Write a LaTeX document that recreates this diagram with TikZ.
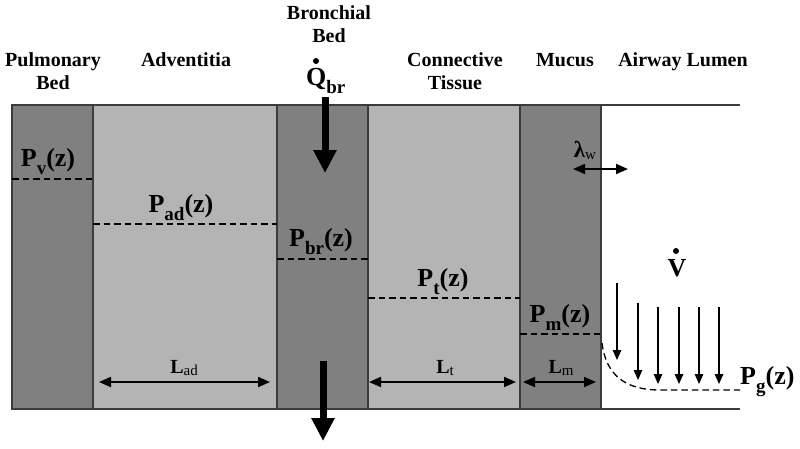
\documentclass[tikz,border=0pt]{standalone}
\usepackage{fontspec}
\setmainfont{Liberation Serif}
\usetikzlibrary{arrows.meta}
\definecolor{darkcol}{RGB}{128,128,128}
\definecolor{lightcol}{RGB}{180,180,180}
\definecolor{edgecol}{RGB}{60,60,60}
\newcommand{\psub}[1]{\raisebox{-0.32em}{\fontsize{19}{19}\selectfont #1}}
\newcommand{\lsub}[1]{\raisebox{-0.12em}{\fontsize{15}{15}\selectfont\mdseries #1}}
\tikzset{
  heading/.style={font=\fontsize{20}{23}\selectfont\bfseries, align=center, inner sep=0pt, text depth=0pt, anchor=south},
  plab/.style={font=\fontsize{26}{26}\selectfont\bfseries, inner sep=0pt, anchor=base},
  llab/.style={font=\fontsize{20}{20}\selectfont\bfseries, inner sep=0pt, anchor=base},
  layer/.style={draw=edgecol, line width=1.3pt},
  dline/.style={dash pattern=on 6.5pt off 4pt, line width=1.3pt, black},
  dimarrow/.style={{Triangle[length=12pt,width=10pt]}-{Triangle[length=12pt,width=10pt]}, line width=1.8pt},
  flow/.style={-{Triangle[length=10pt,width=8.5pt]}, line width=1.1pt},
  bigarrow/.style={-{Triangle[length=23pt,width=22pt]}, line width=7pt},
}
\begin{document}
\begin{tikzpicture}[x=1pt,y=-1pt]
\useasboundingbox (0,0) rectangle (800,448);
\fill[white] (0,0) rectangle (800,448);
% layers
\draw[layer, fill=darkcol] (12,105) rectangle (93,409);
\draw[layer, fill=lightcol] (93,105) rectangle (277,409);
\draw[layer, fill=darkcol] (277,105) rectangle (368,409);
\draw[layer, fill=lightcol] (368,105) rectangle (520,409);
\draw[layer, fill=darkcol] (520,105) rectangle (601,409);
\draw[layer] (601,105) -- (740,105);
\draw[layer] (601,409) -- (740,409);
% headings
\node[heading] (hpul) at (53,90) {Pulmonary\\Bed};
\node[heading] (hadv) at (186,67) {Adventitia};
\node[heading] (hbro) at (329,43) {Bronchial\\Bed};
\node[heading] (hcon) at (455,90) {Connective\\Tissue};
\node[heading] (hmuc) at (565,67) {Mucus};
\node[heading] (hair) at (683,67) {Airway Lumen};
% bronchial flow
\node[font=\fontsize{26}{26}\selectfont\bfseries, inner sep=0pt, anchor=base west] (qbr) at (306,85) {Q\psub{br}};
\fill (316,61) circle (3pt);
\coordinate (qin1) at (325,97);
\coordinate (qin2) at (325,173);
\coordinate (qout1) at (323,361);
\coordinate (qout2) at (323,441);
\draw[bigarrow] (qin1) -- (qin2);
\draw[bigarrow] (qout1) -- (qout2);
% pressure lines
\draw[dline] (12,179) -- (93,179);
\node[plab] (pv) at (48,166) {P\psub{v}(z)};
\draw[dline] (93,224) -- (277,224);
\node[plab] (pad) at (181,212) {P\psub{ad}(z)};
\draw[dline] (277,259) -- (368,259);
\node[plab] (pbr) at (321,246) {P\psub{br}(z)};
\draw[dline] (368,298) -- (520,298);
\node[plab] (pt) at (443,286) {P\psub{t}(z)};
\draw[dline] (520,334) -- (601,334);
\node[plab] (pm) at (560,322) {P\psub{m}(z)};
\draw[dline] (602,343) .. controls (606,375) and (625,390) .. (660,390) -- (740,390);
\node[plab, anchor=base west] (pg) at (740,384) {P\psub{g}(z)};
% widths
\coordinate (lad1) at (99,382); \coordinate (lad2) at (270,382);
\draw[dimarrow] (lad1) -- (lad2);
\node[llab] (lad) at (184,373) {L\lsub{ad}};
\coordinate (lt1) at (369,382); \coordinate (lt2) at (516,382);
\draw[dimarrow] (lt1) -- (lt2);
\node[llab] (lt) at (445,373) {L\lsub{t}};
\coordinate (lm1) at (523,382); \coordinate (lm2) at (596,382);
\draw[dimarrow] (lm1) -- (lm2);
\node[llab] (lm) at (561,373) {L\lsub{m}};
\coordinate (lw1) at (573,169); \coordinate (lw2) at (628,169);
\draw[dimarrow] (lw1) -- (lw2);
\node[llab, font=\fontsize{23}{23}\selectfont\bfseries] (lw) at (585,157) {λ\lsub{w}};
% airflow
\node[font=\fontsize{26}{26}\selectfont\bfseries, inner sep=0pt, anchor=base] (vdot) at (677,276) {V};
\fill (676,251) circle (3pt);
\foreach \i/\x/\ya/\yb in {1/617/283/360, 2/638/303/380, 3/658/307/384, 4/679/307/384, 5/699/307/384, 6/719/307/384}{
  \coordinate (fa\i) at (\x,\ya);
  \coordinate (fb\i) at (\x,\yb);
  \draw[flow] (fa\i) -- (fb\i);
}
\end{tikzpicture}
\end{document}
